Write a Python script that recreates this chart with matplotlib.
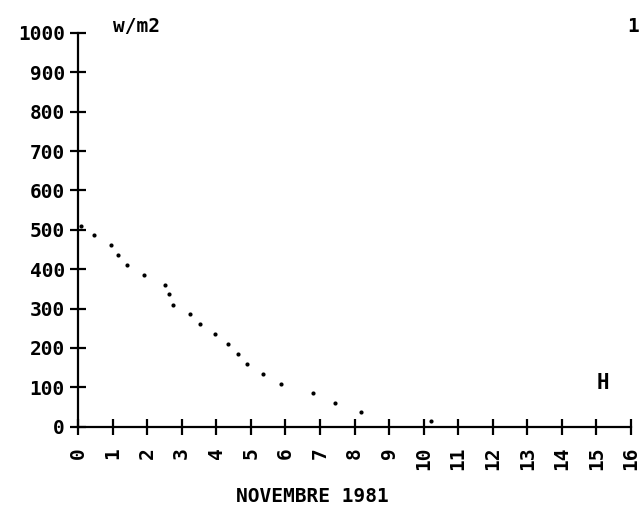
import matplotlib
matplotlib.use("Agg")
import matplotlib.pyplot as plt

# day of month (NOVEMBRE 1981) and irradiance in W/m2
days = [0.09, 0.46, 0.95, 1.16, 1.42, 1.92, 2.51, 2.64, 2.74, 3.24,
        3.54, 3.97, 4.33, 4.63, 4.88, 5.34, 5.87, 6.81, 7.44, 8.18, 10.21]
wm2 = [511, 486, 461, 435, 410, 385, 361, 336, 310, 286,
       261, 236, 211, 185, 160, 134, 109, 85, 60, 37, 15]
xticks = list(range(0, 17))
yticks = list(range(0, 1001, 100))

FONT = {"family": "DejaVu Sans Mono", "weight": "bold"}
plt.rcParams.update({"font.family": "DejaVu Sans Mono", "font.weight": "bold"})

fig = plt.figure(figsize=(6.4, 5.18), dpi=100)
ax = fig.add_axes([78/640, (518-426.7)/518, 553/640, 393.7/518])

ax.plot(days, wm2, "o", color="k", ms=3, mec="none", clip_on=False)

ax.set_xlim(0, 16); ax.set_ylim(0, 1000)
for s in ("top", "right"):
    ax.spines[s].set_visible(False)
for s in ("left", "bottom"):
    ax.spines[s].set_linewidth(1.6)
ax.set_xticks(xticks)
ax.set_yticks(yticks)
ax.tick_params(direction="inout", length=11, width=1.6, labelsize=14)
ax.tick_params(axis="x", pad=9, labelrotation=90)
ax.tick_params(axis="y", pad=4)
ax.set_xticklabels([str(v) for v in xticks], fontdict=FONT)
ax.set_yticklabels([str(v) for v in yticks], fontdict=FONT)

fig.text(312/640, 1-497/518, "NOVEMBRE 1981", fontdict=FONT, fontsize=14,
         ha="center", va="center")
fig.text(113/640, 1-27/518, "w/m2", fontdict=FONT, fontsize=14, va="center")
fig.text(633/640, 1-27/518, "1", fontdict=FONT, fontsize=14, va="center", ha="center")
fig.text(603/640, 1-383/518, "H", fontdict=FONT, fontsize=15, va="center", ha="center")

fig.savefig("out.png", dpi=100)
